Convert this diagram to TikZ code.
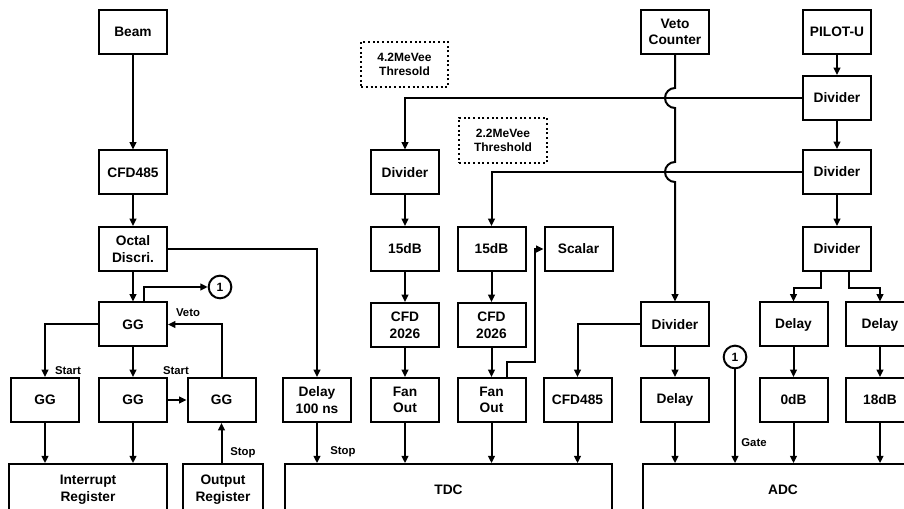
\documentclass[tikz,border=0pt]{standalone}
\usepackage{fontspec}
\setmainfont{Liberation Sans}
\usetikzlibrary{arrows.meta}
\begin{document}
\begin{tikzpicture}[x=0.75pt,y=-0.75pt,
  every node/.style={font=\bfseries\fontsize{10.3}{12.5}\selectfont},
  box/.style={draw,line width=1.5pt,rectangle,align=center,inner sep=0pt,minimum width=51pt,minimum height=33pt},
  thbox/.style={draw,dotted,line width=1.5pt,rectangle,align=center,inner sep=0pt,font=\bfseries\fontsize{9}{11}\selectfont},
  conn/.style={draw,circle,line width=1.5pt,inner sep=0pt,minimum size=17pt,font=\bfseries\fontsize{9}{10}\selectfont},
  lab/.style={font=\bfseries\fontsize{8.5}{10}\selectfont,inner sep=0pt},
  arr/.style={line width=1.5pt,-{Triangle[length=5.5pt,width=5pt]}}]
\clip (0,0) rectangle (904,509);
\fill[white] (0,0) rectangle (904,509);
% left column
\node[box] (beam) at (133,32) {Beam};
\node[box] (cfdA) at (133,172.5) {CFD485};
\node[box] (octal) at (133,249) {Octal\\Discri.};
\node[box] (gg) at (133,324.5) {GG};
\node[box] (gg1) at (45,400) {GG};
\node[box] (gg2) at (133,400) {GG};
\node[box] (gg3) at (221.5,400) {GG};
\node[box,minimum width=118.5pt,minimum height=38pt] (intr) at (88,489.5) {Interrupt\\Register};
\node[box,minimum width=60pt,minimum height=38pt] (outr) at (223,489.5) {Output\\Register};
\node[conn] (c1a) at (220,287) {1};
% middle
\node[box] (dly100) at (317,400) {Delay\\100 ns};
\node[box,minimum width=245pt,minimum height=38pt] (tdc) at (448.5,489.5) {TDC};
\node[thbox,minimum width=65pt,minimum height=34pt] (th42) at (404.5,64.5) {4.2MeVee\\Thresold};
\node[thbox,minimum width=66pt,minimum height=34pt] (th22) at (503,140.5) {2.2MeVee\\Threshold};
\node[box] (div1) at (405,172.5) {Divider};
\node[box] (db15a) at (405,249) {15dB};
\node[box] (cfd2026a) at (405,325) {CFD\\2026};
\node[box] (fanA) at (405,400) {Fan\\Out};
\node[box] (db15b) at (491.5,249) {15dB};
\node[box] (cfd2026b) at (491.5,325) {CFD\\2026};
\node[box] (fanB) at (491.5,400) {Fan\\Out};
\node[box] (scalar) at (578.5,249) {Scalar};
\node[box] (cfdB) at (577.5,400) {CFD485};
% right
\node[box] (veto) at (675,32) {Veto\\Counter};
\node[box] (pilot) at (837,32) {PILOT-U};
\node[box] (dR1) at (837,98) {Divider};
\node[box] (dR2) at (837,172) {Divider};
\node[box] (dR3) at (837,249) {Divider};
\node[box] (dV) at (675,324.5) {Divider};
\node[box] (dlyV) at (675,400) {Delay};
\node[box,minimum width=210pt,minimum height=38pt] (adc) at (783,489.5) {ADC};
\node[box] (dlyA) at (793.5,324.5) {Delay};
\node[box] (db0) at (793.5,400) {0dB};
\node[box] (dlyB) at (880,324.5) {Delay};
\node[box] (db18) at (880,400) {18dB};
\node[conn] (c1b) at (735,357) {1};
% labels
\node[lab] (lveto) at (188,313) {Veto};
\node[lab] (lstart1) at (68,371) {Start};
\node[lab] (lstart2) at (176,371) {Start};
\node[lab] (lstop1) at (243,453) {Stop};
\node[lab] (lstop2) at (343,452) {Stop};
\node[lab] (lgate) at (754,443) {Gate};
% left connectors
\draw[arr] (beam) -- (cfdA);
\draw[arr] (cfdA) -- (octal);
\draw[arr] (octal) -- (gg);
\draw[arr] ([xshift=8.25pt]gg.north) |- (c1a.west);
\draw[arr] (gg.west) -| (gg1.north);
\draw[arr] (gg) -- (gg2);
\draw[arr] (gg2) -- (gg3);
\draw[arr] (gg3.north) |- (gg.east);
\draw[arr] (gg1.south) -- (gg1.south |- intr.north);
\draw[arr] (gg2.south) -- (gg2.south |- intr.north);
\draw[arr] (gg3.south |- outr.north) -- (gg3.south);
\draw[arr] (octal.east) -| (dly100.north);
\draw[arr] (dly100.south) -- (dly100.south |- tdc.north);
% middle connectors
\draw[arr] (dR1.west) -| (div1.north);
\draw[arr] (dR2.west) -| (db15b.north);
\draw[arr] (div1) -- (db15a);
\draw[arr] (db15a) -- (cfd2026a);
\draw[arr] (cfd2026a) -- (fanA);
\draw[arr] (fanA.south) -- (fanA.south |- tdc.north);
\draw[arr] (db15b) -- (cfd2026b);
\draw[arr] (cfd2026b) -- (fanB);
\draw[arr] (fanB.south) -- (fanB.south |- tdc.north);
\coordinate (sc) at (535,249);
\draw[arr] ([xshift=11.6pt]fanB.north) -- ++(0,-15) -| (sc) -- (scalar.west);
\draw[arr] (dV.west) -| (cfdB.north);
\draw[arr] (cfdB.south) -- (cfdB.south |- tdc.north);
% right connectors
\coordinate (j1) at (675,98);
\coordinate (j2) at (675,172);
\draw[arr] (veto.south) -- ([yshift=7.5pt]j1) arc[start angle=90,end angle=270,radius=7.5pt]
  -- ([yshift=7.5pt]j2) arc[start angle=90,end angle=270,radius=7.5pt] -- (dV.north);
\draw[arr] (pilot) -- (dR1);
\draw[arr] (dR1) -- (dR2);
\draw[arr] (dR2) -- (dR3);
\draw[arr] (dV) -- (dlyV);
\draw[arr] (dlyV.south) -- (dlyV.south |- adc.north);
\draw[arr] (c1b.south) -- (c1b.south |- adc.north);
\draw[arr] ([xshift=-12pt]dR3.south) -- ++(0,16) -| (dlyA.north);
\draw[arr] ([xshift=9pt]dR3.south) -- ++(0,16) -| (dlyB.north);
\draw[arr] (dlyA) -- (db0);
\draw[arr] (db0.south) -- (db0.south |- adc.north);
\draw[arr] (dlyB) -- (db18);
\draw[arr] (db18.south) -- (db18.south |- adc.north);
\end{tikzpicture}
\end{document}
